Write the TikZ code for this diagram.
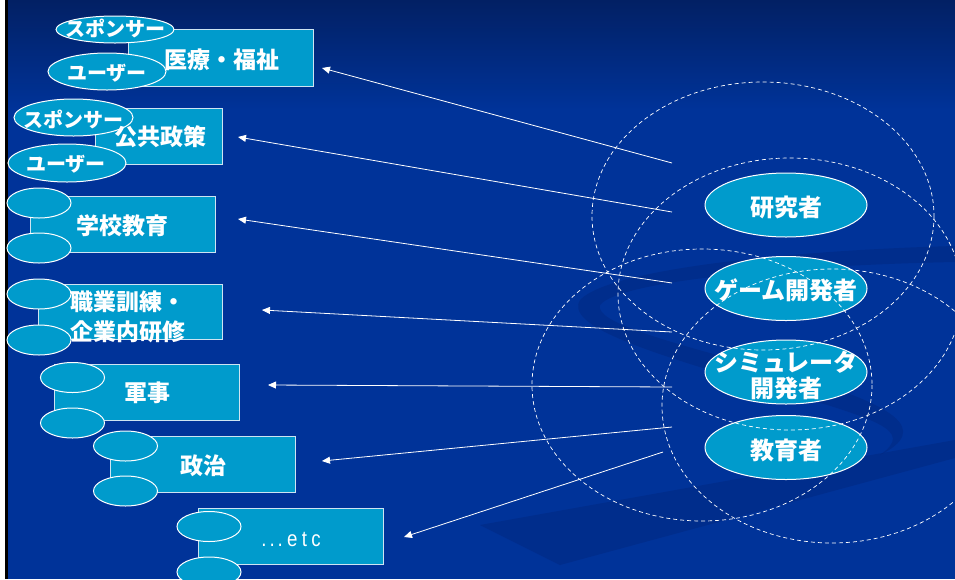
\documentclass[tikz,border=0pt]{standalone}
\usepackage{fontspec}
\newfontfamily\jp{Noto Sans CJK JP}
\newfontfamily\latn{Liberation Sans}
\usetikzlibrary{shapes.geometric,arrows.meta}
\definecolor{bgtop}{RGB}{2,32,100}
\definecolor{bgbot}{RGB}{0,51,153}
\definecolor{boxfill}{RGB}{0,155,204}
\definecolor{boxline}{RGB}{205,228,242}
\definecolor{band}{RGB}{0,38,125}
\begin{document}
\begin{tikzpicture}[x=1pt,y=-1pt,
  box/.style={draw=boxline,line width=1pt,fill=boxfill,rectangle,inner sep=0pt},
  ell/.style={draw=white,line width=1pt,fill=boxfill,ellipse,inner sep=0pt},
  sell/.style={ell,minimum width=64pt,minimum height=30pt},
  rell/.style={ell,minimum width=162pt,minimum height=64pt},
  txt/.style={text=white,inner sep=0pt,font=\jp\bfseries\fontsize{23}{30}\selectfont},
  rtxt/.style={text=white,inner sep=0pt,align=center,font=\jp\bfseries\fontsize{24}{26}\selectfont},
  etxt/.style={text=white,inner sep=0pt,font=\jp\bfseries\fontsize{20}{22}\selectfont},
  con/.style={draw=white,line width=0.8pt,-{Triangle[length=8pt,width=7pt]}},
  ring/.style={draw=white,line width=0.7pt,dash pattern=on 4pt off 3pt}]
\useasboundingbox (0,0) rectangle (955,579);
% background
\fill[bgbot] (0,0) rectangle (955,579);
\fill[top color=bgtop,bottom color=bgbot] (0,0) rectangle (955,110);
\fill[band,opacity=0.45] (955,246) .. controls (800,250) and (610,268) .. (580,300)
  .. controls (565,325) and (640,350) .. (760,385)
  .. controls (880,420) and (915,430) .. (880,455)
  .. controls (930,430) and (900,405) .. (780,372)
  .. controls (660,340) and (595,322) .. (600,305)
  .. controls (620,280) and (800,265) .. (955,262) -- cycle;
\fill[band,opacity=0.45] (480,525) -- (955,440) -- (955,458) -- (560,565) -- cycle;
\fill[white] (0,0) rectangle (5,579);
\fill[black] (5,0) rectangle (8,579);
% boxes
\node[box,minimum width=185pt,minimum height=57pt] (b1) at (220.5,57.5) {};
\node[box,minimum width=127pt,minimum height=56pt] (b2) at (158.5,136) {};
\node[box,minimum width=185pt,minimum height=56pt] (b3) at (122.5,224) {};
\node[box,minimum width=184pt,minimum height=55pt] (b4) at (130,311.5) {};
\node[box,minimum width=185pt,minimum height=56pt] (b5) at (146.5,392) {};
\node[box,minimum width=185pt,minimum height=56pt] (b6) at (202.5,464) {};
\node[box,minimum width=185pt,minimum height=56pt] (b7) at (290.5,536) {};
% side ellipses
\node[ell,minimum width=118pt,minimum height=27pt] (s1) at (115,29.5) {};
\node[ell,minimum width=118pt,minimum height=37pt] (u1) at (107,71.5) {};
\node[ell,minimum width=119pt,minimum height=37pt] (s2) at (73.5,117.5) {};
\node[ell,minimum width=118pt,minimum height=38pt] (u2) at (67,163) {};
\node[sell] (e3a) at (39,203) {};
\node[sell] (e3b) at (39,248) {};
\node[sell] (e4a) at (39,294) {};
\node[sell] (e4b) at (39,340) {};
\node[sell] (e5a) at (72.5,377.5) {};
\node[sell] (e5b) at (72.5,423) {};
\node[sell] (e6a) at (125.5,446) {};
\node[sell] (e6b) at (125.5,491) {};
\node[sell] (e7a) at (209,526.5) {};
\node[sell] (e7b) at (209,572) {};
% ellipse labels
\node[etxt] (ls1) at (115,28.5) {スポンサー};
\node[etxt] (lu1) at (107,73) {ユーザー};
\node[etxt] (ls2) at (73.5,119) {スポンサー};
\node[etxt] (lu2) at (66,164) {ユーザー};
% box texts
\node[txt] (t1) at (222,60) {医療・福祉};
\node[txt] (t2) at (160,137) {公共政策};
\node[txt] (t3) at (122,226) {学校教育};
\node[txt,align=left] (t4) at (128,317) {職業訓練・\\企業内研修};
\node[txt] (t5) at (147,393) {軍事};
\node[txt] (t6) at (203,466) {政治};
\node[text=white,inner sep=0pt,font=\latn\fontsize{22}{22}\selectfont] (t7) at (291,539)
  {\scalebox{0.85}[1]{.\kern3.5pt.\kern3.5pt.\kern5pt e\kern5pt t\kern5pt c}};
% right ellipses
\node[rell] (r1) at (786,205) {};
\node[rell] (r2) at (786,288.5) {};
\node[rell] (r3) at (786,372) {};
\node[rell] (r4) at (786,447.5) {};
\node[rtxt] (lr1) at (786,207) {研究者};
\node[rtxt] (lr2) at (786,290) {ゲーム開発者};
\node[rtxt] (lr3) at (786,375) {シミュレータ\\開発者};
\node[rtxt] (lr4) at (786,450) {教育者};
% dashed rings
\draw[ring] (763,216) ellipse [x radius=171, y radius=134];
\draw[ring] (790,294) ellipse [x radius=172, y radius=136];
\draw[ring] (702,385) ellipse [x radius=170, y radius=136];
\draw[ring] (832,406) ellipse [x radius=170, y radius=137];
% connectors
\coordinate (f1) at (672,163); \coordinate (a1) at (322,68);
\coordinate (f2) at (672,212); \coordinate (a2) at (238,137);
\coordinate (f3) at (672,283); \coordinate (a3) at (238,219);
\coordinate (f4) at (672,332); \coordinate (a4) at (262,310);
\coordinate (f5) at (672,387); \coordinate (a5) at (268,385);
\coordinate (f6) at (672,427); \coordinate (a6) at (322,461);
\coordinate (f7) at (663,452); \coordinate (a7) at (404,537);
\foreach \i in {1,...,7} {\draw[con] (f\i) -- (a\i);}
\end{tikzpicture}
\end{document}
